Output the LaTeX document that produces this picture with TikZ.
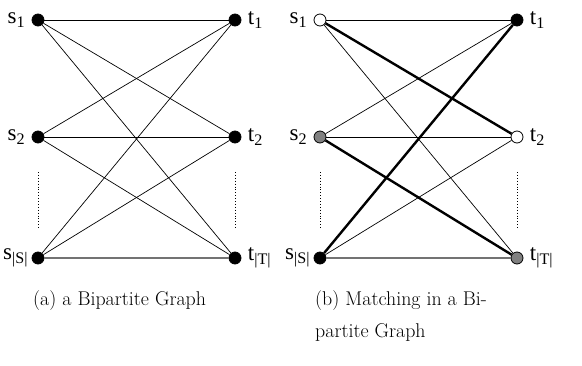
\documentclass[tikz,border=0pt]{standalone}
\usepackage{fontspec}
\usepackage{tikz}
\usetikzlibrary{positioning}
\newfontfamily\labfont{Liberation Serif}
\tikzset{
    vertex/.style = {circle, draw, line width=0.8pt, minimum size=12pt, inner sep=0pt},
    full/.style = {vertex, fill=black},
    empty/.style = {vertex, fill=white},
    half/.style = {vertex, fill=black!50},
    thin edge/.style = {draw, line width=0.7pt},
    match edge/.style = {draw, line width=2.4pt},
    last edge/.style = {draw, line width=1.4pt, black!55},
    dots/.style = {draw, dotted, line width=0.9pt},
    caption/.style = {anchor=base west, inner sep=0pt, font=\fontsize{19.9}{32}\selectfont},
}
\newcommand{\lab}[2]{{\labfont\fontsize{23}{26}\selectfont #1\textsubscript{#2}}}

\begin{document}
\begin{tikzpicture}[x=1pt, y=-1pt, label distance=3pt]
        \useasboundingbox (0, 0) rectangle (582, 365);

        % (a) the bipartite graph
        \node[full, label=left:{\lab{s}{1}}] (s1) at (38, 20) {};
        \node[full, label=left:{\lab{s}{2}}] (s2) at (38, 137) {};
        \node[full, label={[label distance=0pt]left:{\lab{s}{|S|}}}] (sS) at (38, 258) {};
        \node[full, label=right:{\lab{t}{1}}] (t1) at (235, 20) {};
        \node[full, label=right:{\lab{t}{2}}] (t2) at (235, 137) {};
        \node[full, label=right:{\lab{t}{|T|}}] (tT) at (235, 258) {};
        \coordinate (sa) at (38, 172);
        \coordinate (sb) at (38, 228);
        \coordinate (ta) at (235, 172);
        \coordinate (tb) at (235, 228);

        \draw[dots] (sa) -- (sb);
        \draw[dots] (ta) -- (tb);
        \draw[thin edge] (s1) -- (t1);
        \draw[thin edge] (s1) -- (t2);
        \draw[thin edge] (s1) -- (tT);
        \draw[thin edge] (s2) -- (t1);
        \draw[thin edge] (s2) -- (t2);
        \draw[thin edge] (s2) -- (tT);
        \draw[thin edge] (sS) -- (t1);
        \draw[thin edge] (sS) -- (t2);
        \draw[last edge] (sS) -- (tT);

        % (b) a matching in it
        \node[empty, label=left:{\lab{s}{1}}] (bs1) at (320, 20) {};
        \node[half, label=left:{\lab{s}{2}}] (bs2) at (320, 137) {};
        \node[full, label={[label distance=0pt]left:{\lab{s}{|S|}}}] (bsS) at (320, 258) {};
        \node[full, label=right:{\lab{t}{1}}] (bt1) at (517, 20) {};
        \node[empty, label=right:{\lab{t}{2}}] (bt2) at (517, 137) {};
        \node[half, label=right:{\lab{t}{|T|}}] (btT) at (517, 258) {};
        \coordinate (bsa) at (320, 172);
        \coordinate (bsb) at (320, 228);
        \coordinate (bta) at (517, 172);
        \coordinate (btb) at (517, 228);

        \draw[dots] (bsa) -- (bsb);
        \draw[dots] (bta) -- (btb);
        \draw[thin edge] (bs1) -- (bt1);
        \draw[match edge] (bs1) -- (bt2);
        \draw[thin edge] (bs1) -- (btT);
        \draw[thin edge] (bs2) -- (bt1);
        \draw[thin edge] (bs2) -- (bt2);
        \draw[match edge] (bs2) -- (btT);
        \draw[match edge] (bsS) -- (bt1);
        \draw[thin edge] (bsS) -- (bt2);
        \draw[last edge] (bsS) -- (btT);

        % captions
        \node[caption] (capa) at (33, 305) {(a) a Bipartite Graph};
        \node[caption, align=left] (capb) at (315, 337) {(b) Matching in a Bi-\\partite Graph};
\end{tikzpicture}
\end{document}
